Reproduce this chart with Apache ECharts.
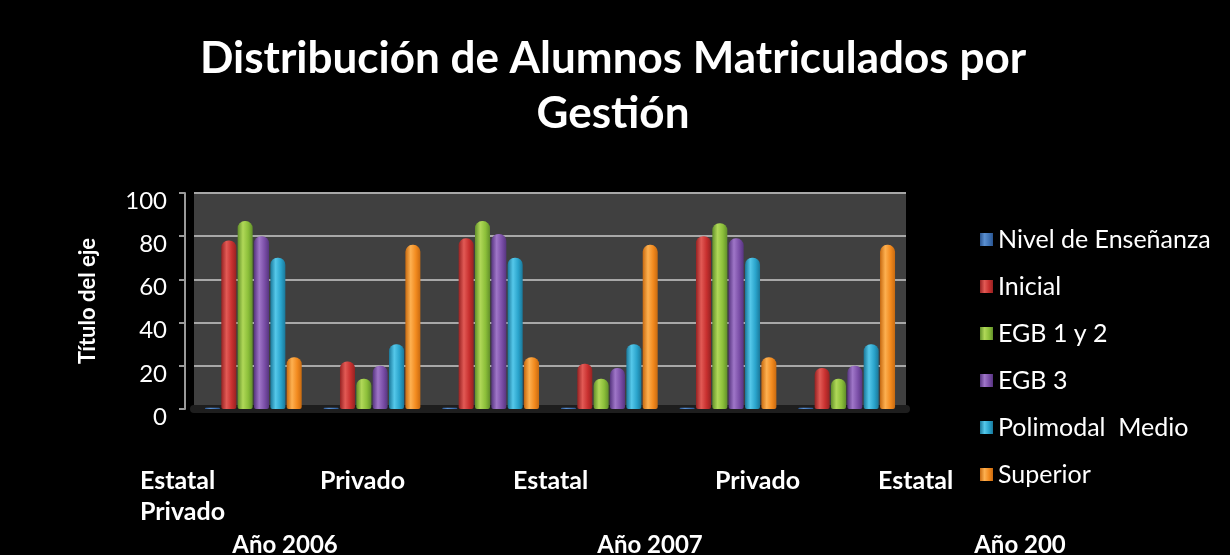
<!DOCTYPE html>
<html>
<head>
<meta charset="utf-8">
<script src="https://cdn.jsdelivr.net/npm/echarts@6/dist/echarts.min.js"></script>
<style>
  html, body { margin: 0; padding: 0; background: #000; }
  #chart { width: 1230px; height: 555px; }
</style>
</head>
<body>
<div id="chart"></div>
<script>
// data
const groups = ["Estatal 2006", "Privado 2006", "Estatal 2007", "Privado 2007", "Estatal 2008", "Privado 2008"];
const nivel = [0.6, 0.6, 0.6, 0.6, 0.6, 0.6];
const inicial = [78, 22, 79, 21, 80, 19];
const egb12 = [87, 14, 87, 14, 86, 14];
const egb3 = [80, 20, 81, 19, 79, 20];
const polimodal = [70, 30, 70, 30, 70, 30];
const superior = [24, 76, 24, 76, 24, 76];
const yTicks = [0, 20, 40, 60, 80, 100];
const gestionLabels = ["Estatal\nPrivado", "Privado", "Estatal", "Privado", "Estatal"];
const yearLabels = ["Año 2006", "Año 2007", "Año 200"];

const FONT = "Lato, 'Open Sans', sans-serif";

function cyl(dark, light, base) {
  return new echarts.graphic.LinearGradient(0, 0, 1, 0, [
    { offset: 0, color: dark },
    { offset: 0.35, color: light },
    { offset: 0.7, color: base },
    { offset: 1, color: dark },
  ]);
}

const seriesDefs = [
  { name: "Nivel de Enseñanza", data: nivel, color: cyl("#2a5590", "#5a8fd0", "#3f73b5") },
  { name: "Inicial", data: inicial, color: cyl("#962222", "#e25a55", "#c8302f") },
  { name: "EGB 1 y 2", data: egb12, color: cyl("#62902a", "#b0d858", "#8cbf3a") },
  { name: "EGB 3", data: egb3, color: cyl("#573580", "#9f76c8", "#7b4fa8") },
  { name: "Polimodal  Medio", data: polimodal, color: cyl("#1a789a", "#55c8ea", "#2aa4cc") },
  { name: "Superior", data: superior, color: cyl("#c86a10", "#fdb050", "#f28a1e") },
];

const chart = echarts.init(document.getElementById("chart"));

const gestionX = [140, 320, 513, 715, 878];
const yearX = [285, 650, 1020];

const graphics = [];
gestionLabels.forEach((t, i) => {
  graphics.push({
    type: "text", left: gestionX[i], top: 465,
    style: { text: t, fill: "#fff", font: "bold 25px " + FONT, lineHeight: 31 },
  });
});
yearLabels.forEach((t, i) => {
  graphics.push({
    type: "text", x: yearX[i], y: 545,
    style: { text: t, fill: "#fff", font: "bold 24px " + FONT, textAlign: "center", textVerticalAlign: "middle" },
  });
});

chart.setOption({
  backgroundColor: "#000",
  animation: false,
  title: {
    text: "Distribución de Alumnos Matriculados por\nGestión",
    left: 608, top: 26, textAlign: "center",
    textStyle: { color: "#fff", fontSize: 44, fontWeight: "bold", fontFamily: FONT, lineHeight: 55 },
  },
  legend: {
    orient: "vertical",
    left: 975, top: 222,
    itemWidth: 13, itemHeight: 13, itemGap: 22,
    icon: "rect",
    textStyle: { color: "#fff", fontSize: 25, fontFamily: FONT },
    data: seriesDefs.map(s => s.name),
  },
  grid: {
    left: 194, right: 324, top: 193, bottom: 146,
    show: true, backgroundColor: "#404040", borderWidth: 0,
  },
  xAxis: {
    type: "category",
    data: groups,
    axisLine: { show: true, lineStyle: { color: "#1e1e1e", width: 8 } },
    axisTick: { show: false },
    axisLabel: { show: false },
  },
  yAxis: {
    type: "value",
    min: 0, max: 100, interval: 20,
    offset: 9,
    name: "Título del eje",
    nameLocation: "middle",
    nameGap: 86,
    nameRotate: 90,
    nameTextStyle: { color: "#fff", fontSize: 22, fontWeight: "bold", fontFamily: FONT },
    axisLine: { show: true, lineStyle: { color: "#9a9a9a", width: 2 } },
    axisTick: { show: true, length: 6, lineStyle: { color: "#9a9a9a", width: 2 } },
    axisLabel: {
      color: "#fff", fontSize: 24, fontFamily: FONT, margin: 18,
      verticalAlign: "top", lineHeight: 16,
      formatter: v => (yTicks.includes(v) ? String(v) : ""),
    },
    splitLine: { show: true, lineStyle: { color: "#a8a8a8", width: 2 } },
  },
  series: seriesDefs.map(s => ({
    name: s.name,
    type: "bar",
    data: s.data,
    barWidth: 15,
    barGap: "9%",
    itemStyle: { color: s.color, borderRadius: [7, 7, 2, 2] },
  })),
  graphic: graphics,
});
</script>
</body>
</html>
